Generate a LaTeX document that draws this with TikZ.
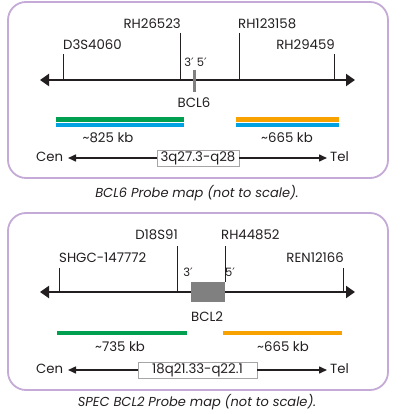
\documentclass[tikz,border=0pt]{standalone}
\usepackage{fontspec}
\setmainfont{Poppins}
\newfontfamily\primefont{DejaVu Sans}
\newcommand{\pr}{{\primefont ′}}
\usetikzlibrary{arrows.meta}
\definecolor{frame}{RGB}{196,170,214}
\definecolor{ink}{RGB}{35,31,32}
\definecolor{pgreen}{RGB}{0,160,80}
\definecolor{pblue}{RGB}{0,162,226}
\definecolor{porange}{RGB}{247,162,0}
\definecolor{gene}{RGB}{128,128,128}
\tikzset{
  panel/.style={draw=frame, line width=1.8pt, rounded corners=18pt},
  chrom/.style={draw=ink, line width=2pt, {Triangle[length=9pt,width=12pt]}-{Triangle[length=9pt,width=12pt]}},
  tickline/.style={draw=ink, line width=0.9pt},
  lbl/.style={font=\fontsize{13.3}{13.3}\selectfont, text=ink, inner sep=0pt},
  small/.style={font=\fontsize{11.5}{11.5}\selectfont, text=ink, inner sep=0pt},
  bar/.style={line width=4.5pt},
  axis/.style={draw=ink, line width=1.5pt, -{Triangle[length=8pt,width=7pt]}},
  bandbox/.style={draw=ink!40, line width=0.6pt, fill=white, font=\fontsize{13.3}{13.3}\selectfont, text=ink, inner sep=1.5pt, minimum height=13pt},
  captext/.style={font=\fontsize{13}{13}\selectfont\itshape, text=ink, inner sep=0pt}
}
\begin{document}
\begin{tikzpicture}[x=1pt,y=-1pt]
\useasboundingbox (0,0) rectangle (400,414);
% ---------- top panel ----------
\node[panel, minimum width=380pt, minimum height=176pt, inner sep=0pt] (p1) at (198,90) {};
\coordinate (a1l) at (40,80);
\coordinate (a1r) at (355,80);
\draw[chrom] (a1l) -- (a1r);
\coordinate (t1a) at (63,54);  \coordinate (t1b) at (63,80);
\coordinate (t2a) at (180,33); \coordinate (t2b) at (180,80);
\coordinate (t3a) at (239,33); \coordinate (t3b) at (239,80);
\coordinate (t4a) at (334,54); \coordinate (t4b) at (334,80);
\draw[tickline] (t1a) -- (t1b);
\draw[tickline] (t2a) -- (t2b);
\draw[tickline] (t3a) -- (t3b);
\draw[tickline] (t4a) -- (t4b);
\node[lbl, anchor=south west] (n1) at (63,50) {D3S4060};
\node[lbl, anchor=south east] (n2) at (181,29) {RH26523};
\node[lbl, anchor=south west] (n3) at (238,29) {RH123158};
\node[lbl, anchor=south east] (n4) at (335,50) {RH29459};
\coordinate (g1a) at (194,70); \coordinate (g1b) at (194,92);
\draw[draw=gene, line width=3pt] (g1a) -- (g1b);
\node[small] (e1) at (195.5,62) {3\pr\ 5\pr};
\node[lbl] (bcl6) at (194,103) {BCL6};
\coordinate (gr1a) at (56,119.5); \coordinate (gr1b) at (184,119.5);
\coordinate (bl1a) at (56,125); \coordinate (bl1b) at (184,125);
\coordinate (or1a) at (236,119.5); \coordinate (or1b) at (339,119.5);
\coordinate (bl2a) at (236,125); \coordinate (bl2b) at (339,125);
\draw[bar, pgreen] (gr1a) -- (gr1b);
\draw[bar, pblue] (bl1a) -- (bl1b);
\draw[bar, porange] (or1a) -- (or1b);
\draw[bar, pblue] (bl2a) -- (bl2b);
\node[lbl] (k1) at (108,138) {\textasciitilde825 kb};
\node[lbl] (k2) at (287,138) {\textasciitilde665 kb};
\node[lbl, anchor=west] (cen1) at (36,157) {Cen};
\node[lbl, anchor=east] (tel1) at (349,157) {Tel};
\node[bandbox, minimum width=82pt] (band1) at (198,158) {3q27.3-q28};
\coordinate (c1) at (68,158); \coordinate (c2) at (327,158);
\draw[axis] (band1.west) -- (c1);
\draw[axis] (band1.east) -- (c2);
\node[captext] (cap1) at (197,193) {BCL6 Probe map (not to scale).};
% ---------- bottom panel ----------
\node[panel, minimum width=380pt, minimum height=177pt, inner sep=0pt] (p2) at (198,301.5) {};
\coordinate (a2l) at (40,292);
\coordinate (a2r) at (355,292);
\draw[chrom] (a2l) -- (a2r);
\coordinate (u1a) at (59,268);  \coordinate (u1b) at (59,292);
\coordinate (u2a) at (177,246); \coordinate (u2b) at (177,292);
\coordinate (u3a) at (225,246); \coordinate (u3b) at (225,282);
\coordinate (u4a) at (343,268); \coordinate (u4b) at (343,292);
\draw[tickline] (u1a) -- (u1b);
\draw[tickline] (u2a) -- (u2b);
\draw[tickline] (u3a) -- (u3b);
\draw[tickline] (u4a) -- (u4b);
\node[lbl, anchor=south west] (m1) at (59,263) {SHGC-147772};
\node[lbl, anchor=south east] (m2) at (178,240) {D18S91};
\node[lbl, anchor=south west] (m3) at (221,240) {RH44852};
\node[lbl, anchor=south east] (m4) at (344,263) {REN12166};
\node[fill=gene, minimum width=34pt, minimum height=20pt, inner sep=0pt] (bcl2box) at (208,292) {};
\node[small] (e3) at (188,272) {3\pr};
\node[small] (e5) at (230,272) {5\pr};
\node[lbl] (bcl2) at (207,317) {BCL2};
\coordinate (gr2a) at (57,333); \coordinate (gr2b) at (187,333);
\coordinate (or2a) at (223,333); \coordinate (or2b) at (342,333);
\draw[bar, pgreen] (gr2a) -- (gr2b);
\draw[bar, porange] (or2a) -- (or2b);
\node[lbl] (k3) at (120,347) {\textasciitilde735 kb};
\node[lbl] (k4) at (283,347) {\textasciitilde665 kb};
\node[lbl, anchor=west] (cen2) at (36,369) {Cen};
\node[lbl, anchor=east] (tel2) at (349,369) {Tel};
\node[bandbox, minimum width=119pt] (band2) at (197.5,370) {18q21.33-q22.1};
\coordinate (d1) at (68,370); \coordinate (d2) at (327,370);
\draw[axis] (band2.west) -- (d1);
\draw[axis] (band2.east) -- (d2);
\node[captext] (cap2) at (197,402) {SPEC BCL2 Probe map (not to scale).};
\end{tikzpicture}
\end{document}
